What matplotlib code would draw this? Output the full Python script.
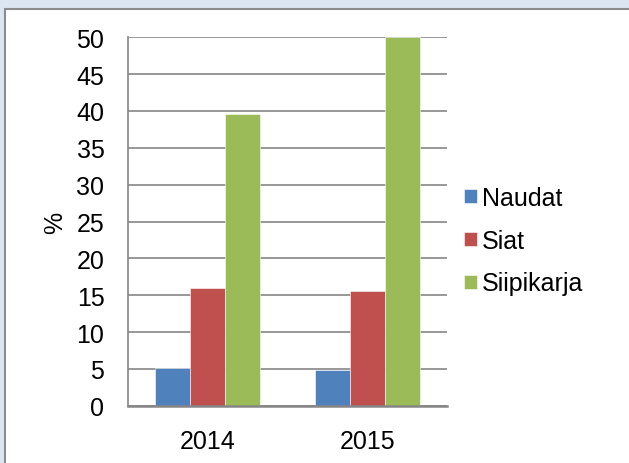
import matplotlib.pyplot as plt
import numpy as np
from matplotlib.patches import Rectangle

plt.rcParams['font.family'] = ['Liberation Sans', 'DejaVu Sans']

years = ["2014", "2015"]
series = ["Naudat", "Siat", "Siipikarja"]
naudat = [5.1, 4.8]
siat = [16.0, 15.6]
siipikarja = [39.6, 50.0]
colors = ["#4F81BD", "#C0504D", "#9BBB59"]

fig = plt.figure(figsize=(6.29, 4.64), dpi=100)
fig.patch.set_facecolor("#DCE6F2")

# white chart box with gray frame (runs past the right and bottom edges)
box = Rectangle((4.5 / 629, -0.1), 1.2, 1.1 - 9.5 / 464, transform=fig.transFigure,
                facecolor="white", edgecolor="#8C8C8C", linewidth=1.5, zorder=-5)
fig.patches.append(box)

ax = fig.add_axes([128 / 629, 1 - 406.7 / 464, 319 / 629, 368.4 / 464])
ax.set_facecolor("none")

x = np.arange(len(years))
w = 0.22
for i, (vals, name, c) in enumerate(zip([naudat, siat, siipikarja], series, colors)):
    ax.bar(x + (i - 1) * w, vals, width=w, color=c, label=name, zorder=3,
           edgecolor="white", linewidth=0.4)

ax.set_xlim(-0.5, 1.5)
ax.set_ylim(0, 50)
ax.set_yticks(range(0, 51, 5))
ax.set_xticks(x)
ax.set_xticklabels(years)
ax.grid(axis="y", color="#868686", linewidth=1.2, zorder=0)
ax.set_axisbelow(True)
for s in ["top", "right"]:
    ax.spines[s].set_visible(False)
ax.spines["left"].set_color("#868686")
ax.spines["left"].set_linewidth(1.2)
ax.spines["bottom"].set_color("#868686")
ax.spines["bottom"].set_linewidth(1.8)
ax.spines["bottom"].set_zorder(4)
ax.tick_params(axis="both", length=0, labelsize=18)
ax.tick_params(axis="y", pad=17)
ax.tick_params(axis="x", pad=17)
ax.set_ylabel("%", fontsize=18, labelpad=7)

leg = fig.legend(loc="upper left", bbox_to_anchor=(454 / 629, 1 - 177 / 464), frameon=False,
                 fontsize=18, handlelength=0.5, handleheight=0.5, handletextpad=0.2,
                 labelspacing=0.75, borderaxespad=0)

fig.savefig("out.png", dpi=100, facecolor=fig.get_facecolor())
